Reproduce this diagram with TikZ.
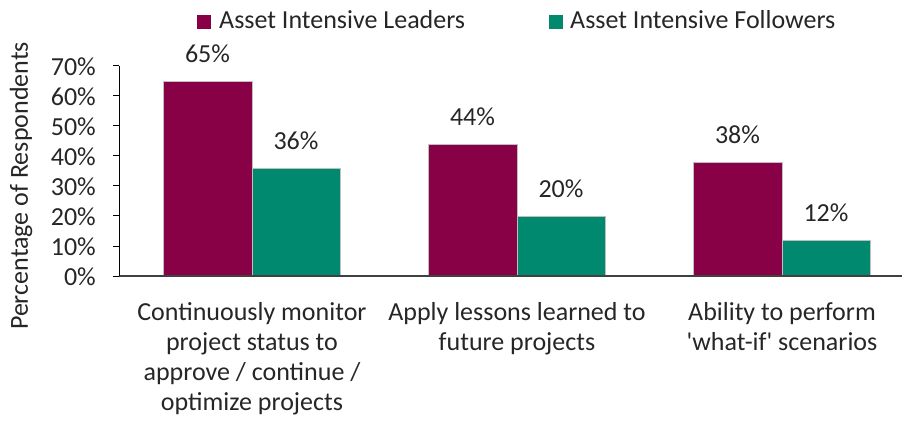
\documentclass[tikz,border=0pt]{standalone}
\usepackage{fontspec}
\setmainfont{Carlito}[Ligatures=TeXOff]
\definecolor{lead}{HTML}{880046}
\definecolor{foll}{HTML}{00896F}
\definecolor{txt}{HTML}{262626}
\definecolor{axisc}{HTML}{404040}
\begin{document}
\begin{tikzpicture}[x=1pt,y=-1pt,
  lbl/.style={font=\fontsize{26}{30}\selectfont, text=txt, inner sep=0pt},
  leadbar/.style={fill=lead, draw=black!25, line width=0.5pt},
  follbar/.style={fill=foll, draw=black!25, line width=0.5pt},
  axisline/.style={draw=axisc, line width=1.2pt},
]
\useasboundingbox (0,0) rectangle (902,422);
% legend
\fill[lead] (197,15) rectangle (211,29);
\node[lbl, anchor=base west] (legL) at (219,29) {Asset Intensive Leaders};
\fill[foll] (549,15) rectangle (563,29);
\node[lbl, anchor=base west] (legF) at (570,29) {Asset Intensive Followers};
% bars
\draw[leadbar] (163,276) rectangle (252,81);
\draw[follbar] (252,276) rectangle (340,168);
\draw[leadbar] (428,276) rectangle (517,144);
\draw[follbar] (517,276) rectangle (605,216);
\draw[leadbar] (693,276) rectangle (782,162);
\draw[follbar] (782,276) rectangle (870,240);
% data labels
\node[lbl, anchor=base] (d1) at (207.5,63) {65\%};
\node[lbl, anchor=base] (d2) at (296,150) {36\%};
\node[lbl, anchor=base] (d3) at (472.5,126) {44\%};
\node[lbl, anchor=base] (d4) at (561,198) {20\%};
\node[lbl, anchor=base] (d5) at (737.5,144) {38\%};
\node[lbl, anchor=base] (d6) at (826,222) {12\%};
% axes
\draw[axisline] (119,276) -- (902,276);
\draw[draw=black, line width=1pt] (119,66) -- (119,276);
\foreach \v [count=\i from 0] in {0,10,20,30,40,50,60,70} {
  \draw[draw=black, line width=1pt] (113,276-30*\i) -- (119,276-30*\i);
  \node[lbl, anchor=east] (t\i) at (96,277-30*\i) {\v\%};
}
% axis title
\node[lbl, rotate=90] (ytitle) at (21,186) {Percentage of Respondents};
% category labels
\node[lbl, align=center, anchor=north] (c1) at (252,302) {Continuously monitor\\project status to\\approve / continue /\\optimize projects};
\node[lbl, align=center, anchor=north] (c2) at (517,302) {Apply lessons learned to\\future projects};
\node[lbl, align=center, anchor=north] (c3) at (782,302) {Ability to perform\\'what-if' scenarios};
\end{tikzpicture}
\end{document}
